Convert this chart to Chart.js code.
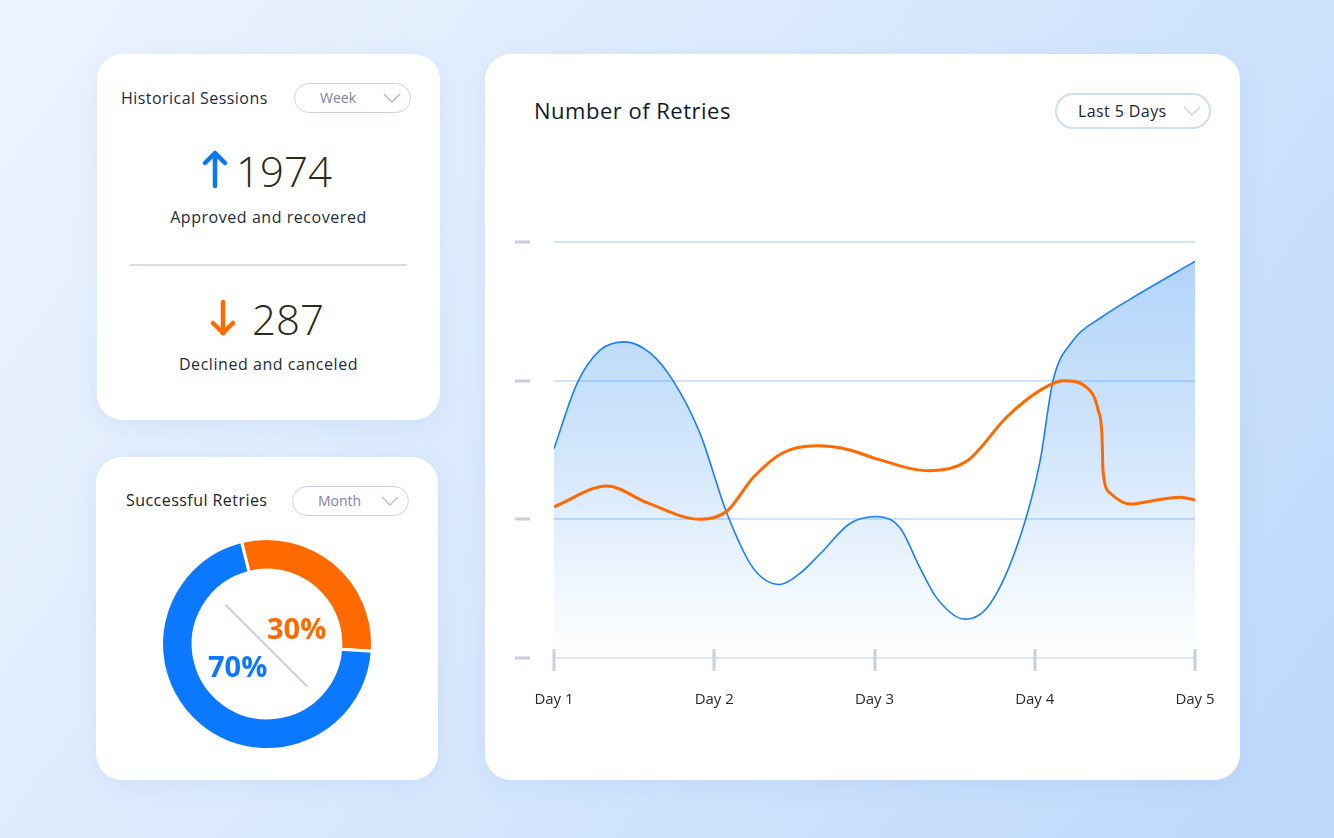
<!DOCTYPE html>
<html>
<head>
<meta charset="utf-8">
<script src="https://cdn.jsdelivr.net/npm/chart.js@4.4.1/dist/chart.umd.min.js"></script>
<style>
  html, body { margin:0; padding:0; }
  body { width:1334px; height:838px; position:relative; overflow:hidden;
    background: linear-gradient(125deg, #eef4fe 0%, #d9e9fd 45%, #bcd8fb 100%);
    font-family: "Open Sans", "Noto Sans", sans-serif; }
  .card { position:absolute; background:#fff; border-radius:26px;
    box-shadow: 0 6px 24px rgba(90,140,220,0.10); }
  .abs { position:absolute; white-space:nowrap; }
  .pill { position:absolute; box-sizing:border-box; border:1.5px solid #cad3e6; border-radius:18px; }
  .pill span { position:absolute; top:50%; transform:translateY(-52%); }
  .pill svg { position:absolute; }
  .lbl { font-size:16px; line-height:22px; letter-spacing:0.55px; color:#1d2b3c; }
</style>
</head>
<body>
<!-- Card 1 -->
<div class="card" style="left:97px;top:54px;width:343px;height:366px;"></div>
<div class="abs lbl" style="left:121px;top:87px;letter-spacing:0.45px;">Historical Sessions</div>
<div class="pill" style="left:294px;top:83px;width:117px;height:30px;">
  <span style="left:25px;font-size:14px;color:#857fa0;">Week</span>
  <svg style="left:88px;top:9px" width="18" height="11" viewBox="0 0 18 11"><polyline points="1,1 9,9 17,1" fill="none" stroke="#b6b3cc" stroke-width="1.4"/></svg>
</div>
<svg class="abs" style="left:202px;top:150px" width="26" height="40" viewBox="0 0 26 40"><g fill="none" stroke="#0a77f7" stroke-width="4.5" stroke-linecap="round" stroke-linejoin="round"><line x1="13" y1="4" x2="13" y2="36"/><polyline points="3,13 13,3 23,13"/></g></svg>
<div class="abs" style="left:236px;top:146px;font-size:42px;line-height:50px;font-weight:300;color:#2b2a1b;">1974</div>
<div class="abs lbl" style="left:97px;width:343px;top:206px;text-align:center;">Approved and recovered</div>
<div class="abs" style="left:130px;top:264px;width:277px;height:2px;background:#d5dcea;"></div>
<svg class="abs" style="left:209px;top:298px" width="28" height="40" viewBox="0 0 28 40"><g fill="none" stroke="#ff6a00" stroke-width="4.5" stroke-linecap="round" stroke-linejoin="round"><line x1="14" y1="4" x2="14" y2="35"/><polyline points="4,25 14,35 24,25"/></g></svg>
<div class="abs" style="left:252px;top:294px;font-size:42px;line-height:50px;font-weight:300;color:#2b2a1b;">287</div>
<div class="abs lbl" style="left:97px;width:343px;top:353px;text-align:center;">Declined and canceled</div>

<!-- Card 2 -->
<div class="card" style="left:96px;top:457px;width:342px;height:323px;"></div>
<div class="abs lbl" style="left:126px;top:489px;color:#222;letter-spacing:0.45px;">Successful Retries</div>
<div class="pill" style="left:292px;top:486px;width:117px;height:30px;">
  <span style="left:25px;font-size:14px;color:#857fa0;">Month</span>
  <svg style="left:88px;top:9px" width="18" height="11" viewBox="0 0 18 11"><polyline points="1,1 9,9 17,1" fill="none" stroke="#c4b7d9" stroke-width="1.4"/></svg>
</div>
<div class="abs" style="left:157px;top:534px;width:220px;height:220px;"><canvas id="donut" width="220" height="220"></canvas></div>
<div class="abs" style="left:209px;top:644px;width:116px;height:1.5px;background:#c9cfdf;transform-origin:0 0;transform:translate(17px,-40px) rotate(45deg);"></div>
<div class="abs" style="left:267px;top:610px;font-size:29px;line-height:36px;font-weight:700;color:#ff6a00;">30%</div>
<div class="abs" style="left:208px;top:648px;font-size:29px;line-height:36px;font-weight:700;color:#0a78ff;">70%</div>

<!-- Card 3 -->
<div class="card" style="left:485px;top:54px;width:755px;height:726px;"></div>
<div class="abs" style="left:534px;top:95px;font-size:22px;line-height:30px;letter-spacing:0.5px;color:#0e1b2e;">Number of Retries</div>
<div class="pill" style="left:1055px;top:93px;width:156px;height:36px;border:2px solid #cfdef0;">
  <span style="left:21px;font-size:16px;letter-spacing:0.4px;color:#1a2536;">Last 5 Days</span>
  <svg style="left:126px;top:11px" width="18" height="11" viewBox="0 0 18 11"><polyline points="1,1 9,9 17,1" fill="none" stroke="#c4d4e8" stroke-width="1.4"/></svg>
</div>
<div class="abs" style="left:485px;top:54px;width:755px;height:726px;"><canvas id="line" width="755" height="726"></canvas></div>

<script>
// ---- Data ----
const dayLabels = ['Day 1', 'Day 2', 'Day 3', 'Day 4', 'Day 5'];
const yTicks = [0, 1, 2, 3];

const blueX = [1.0, 1.144, 1.287, 1.443, 1.599, 1.743, 1.911, 2.080, 2.242, 2.410, 2.535, 2.660, 2.847, 3.016, 3.159, 3.284, 3.390, 3.565, 3.721, 3.908, 4.033, 4.114, 4.239, 4.407, 4.657, 5.0];
const blueY = [1.51, 1.98, 2.22, 2.28, 2.20, 2.00, 1.62, 1.04, 0.65, 0.53, 0.61, 0.75, 0.97, 1.02, 0.94, 0.65, 0.43, 0.28, 0.39, 0.87, 1.42, 2.00, 2.29, 2.45, 2.63, 2.86];

const orangeX = [1.0, 1.331, 1.580, 1.911, 2.080, 2.242, 2.429, 2.641, 2.847, 3.003, 3.346, 3.577, 3.827, 4.033, 4.176, 4.326, 4.395, 4.420, 4.426, 4.470, 4.594, 4.763, 4.906, 5.0];
const orangeY = [1.09, 1.24, 1.12, 1.00, 1.06, 1.30, 1.48, 1.53, 1.50, 1.44, 1.35, 1.42, 1.74, 1.93, 2.00, 1.95, 1.79, 1.59, 1.35, 1.19, 1.11, 1.14, 1.16, 1.14];

const donutLabels = ['Declined', 'Approved'];
const donutValues = [30, 70];

// ---- Line chart ----
const pts = (xs, ys) => xs.map((x, i) => ({ x: x, y: ys[i] }));

const axisMarks = {
  id: 'axisMarks',
  afterDatasetsDraw(chart) {
    const { ctx, chartArea, scales } = chart;
    ctx.save();
    ctx.strokeStyle = '#c7cfe2';
    ctx.lineWidth = 3;
    dayLabels.forEach((_, i) => {
      const px = Math.round(scales.x.getPixelForValue(i + 1));
      ctx.beginPath();
      ctx.moveTo(px, chartArea.bottom - 9);
      ctx.lineTo(px, chartArea.bottom + 13);
      ctx.stroke();
    });
    yTicks.forEach(v => {
      const py = Math.round(scales.y.getPixelForValue(v));
      ctx.beginPath();
      ctx.moveTo(chartArea.left - 39, py);
      ctx.lineTo(chartArea.left - 24, py);
      ctx.stroke();
    });
    ctx.restore();
  }
};

new Chart(document.getElementById('line'), {
  type: 'line',
  data: {
    datasets: [
      {
        data: pts(orangeX, orangeY),
        borderColor: '#ff6a00',
        borderWidth: 3,
        pointRadius: 0,
        fill: false,
        cubicInterpolationMode: 'monotone'
      },
      {
        data: pts(blueX, blueY),
        borderColor: '#1a80f4',
        borderWidth: 1.6,
        pointRadius: 0,
        fill: 'start',
        cubicInterpolationMode: 'monotone',
        backgroundColor: (c) => {
          const area = c.chart.chartArea;
          if (!area) return 'rgba(30,130,240,0.2)';
          const g = c.chart.ctx.createLinearGradient(0, area.top, 0, area.bottom);
          g.addColorStop(0, 'rgba(30,130,240,0.36)');
          g.addColorStop(0.5, 'rgba(30,130,240,0.2)');
          g.addColorStop(1, 'rgba(30,130,240,0)');
          return g;
        }
      }
    ]
  },
  options: {
    responsive: false,
    animation: false,
    layout: { padding: { left: 69, right: 45, top: 188, bottom: 68 } },
    plugins: { legend: { display: false }, tooltip: { enabled: false } },
    scales: {
      x: {
        type: 'linear', min: 1, max: 5,
        grid: { display: false, drawTicks: true, tickLength: 30 },
        border: { display: true, color: '#dbe5f4', width: 2 },
        ticks: {
          stepSize: 1, padding: 3,
          font: { family: 'Open Sans', size: 15 }, color: '#2a2a2a',
          callback: (v) => dayLabels[v - 1] || ''
        }
      },
      y: {
        min: 0, max: 3,
        ticks: { display: false, stepSize: 1 },
        border: { display: false },
        grid: {
          drawTicks: false, lineWidth: 2,
          color: (c) => c.tick && c.tick.value === 0 ? 'rgba(0,0,0,0)' : '#d0e3fb'
        }
      }
    }
  },
  plugins: [axisMarks]
});

// ---- Donut ----
new Chart(document.getElementById('donut'), {
  type: 'doughnut',
  data: {
    labels: donutLabels,
    datasets: [{
      data: donutValues,
      backgroundColor: ['#ff6a00', '#0a78ff'],
      borderColor: '#ffffff',
      borderWidth: 3
    }]
  },
  options: {
    responsive: false,
    animation: false,
    rotation: -14,
    cutout: '70%',
    layout: { padding: 3 },
    plugins: { legend: { display: false }, tooltip: { enabled: false } }
  }
});
</script>
</body>
</html>
